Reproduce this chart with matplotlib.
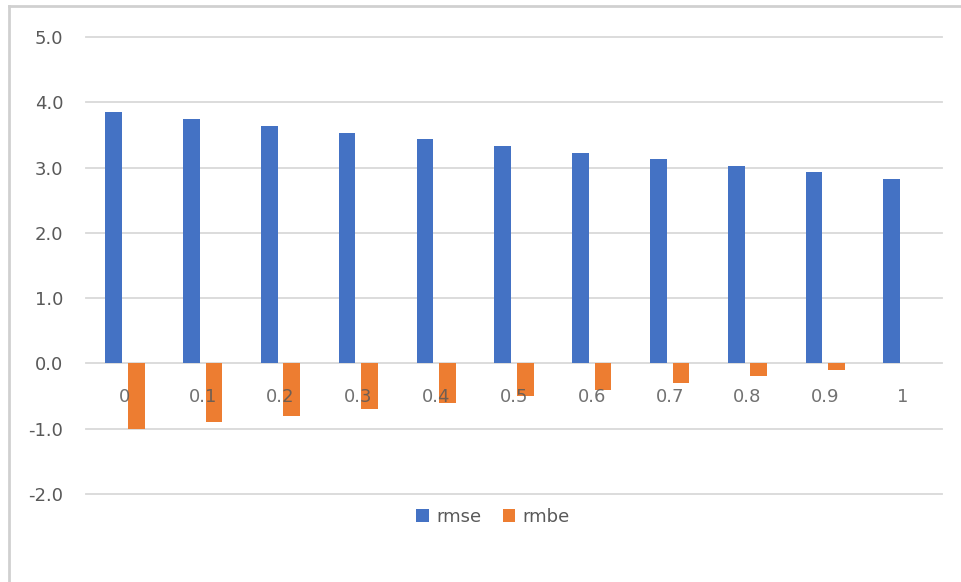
import matplotlib
matplotlib.use("Agg")
import matplotlib.pyplot as plt
import numpy as np
from matplotlib.lines import Line2D

categories = ["0", "0.1", "0.2", "0.3", "0.4", "0.5", "0.6", "0.7", "0.8", "0.9", "1"]
rmse = [3.85, 3.75, 3.64, 3.53, 3.43, 3.33, 3.23, 3.13, 3.03, 2.93, 2.83]
rmbe = [-1.0, -0.9, -0.8, -0.7, -0.6, -0.5, -0.4, -0.3, -0.2, -0.1, 0.0]
yticks = [-2.0, -1.0, 0.0, 1.0, 2.0, 3.0, 4.0, 5.0]

BLUE = "#4472C4"
ORANGE = "#ED7D31"
TEXT = "#595959"
GRID = "#D9D9D9"

plt.rcParams['font.family'] = ['DejaVu Sans']

fig = plt.figure(figsize=(9.62, 5.82), dpi=100)
ax = fig.add_axes([86/962, 1-494/582, (942-86)/962, (494-37)/582])

x = np.arange(len(categories))
w = 0.215
off = 0.145
ax.bar(x - off, rmse, width=w, color=BLUE, label="rmse", zorder=3)
ax.bar(x + off, rmbe, width=w, color=ORANGE, label="rmbe", zorder=3)

ax.set_xlim(-0.5, len(categories) - 0.5)
ax.set_ylim(-2.0, 5.0)
ax.set_yticks(yticks)
ax.set_yticklabels([f"{v:.1f}" for v in yticks])
ax.yaxis.grid(True, color=GRID, linewidth=1.3, zorder=0)
for gl in ax.get_ygridlines():
    gl.set_clip_on(False)
ax.set_axisbelow(True)

for s in ["top", "right", "left", "bottom"]:
    ax.spines[s].set_visible(False)

ax.set_xticks(x)
ax.set_xticklabels([])
ax.tick_params(axis="x", length=0)
ax.tick_params(axis="y", length=0, pad=16.5, labelsize=13, labelcolor=TEXT)

# category labels sit just below the zero line, drawn over the bars
for xi, lab in zip(x, categories):
    ax.annotate(lab, (xi, 0), xytext=(0, -24), textcoords="offset points",
                ha="center", va="center", fontsize=13, color=TEXT,
                alpha=0.85, zorder=5)

leg = fig.legend(loc="center", bbox_to_anchor=(493/962, 1-517/582), ncol=2,
                 frameon=False, fontsize=13, handlelength=0.7, handleheight=0.7,
                 handletextpad=0.4, columnspacing=1.2, labelcolor=TEXT)

# chart area border (left and top edges visible)
fig.add_artist(Line2D([9/962, 9/962], [0, 1-6/582], transform=fig.transFigure,
                      color="#D0D0D0", linewidth=2))
fig.add_artist(Line2D([9/962, 1], [1-6/582, 1-6/582], transform=fig.transFigure,
                      color="#D0D0D0", linewidth=2))

fig.savefig("out.png", dpi=100, facecolor="white")
